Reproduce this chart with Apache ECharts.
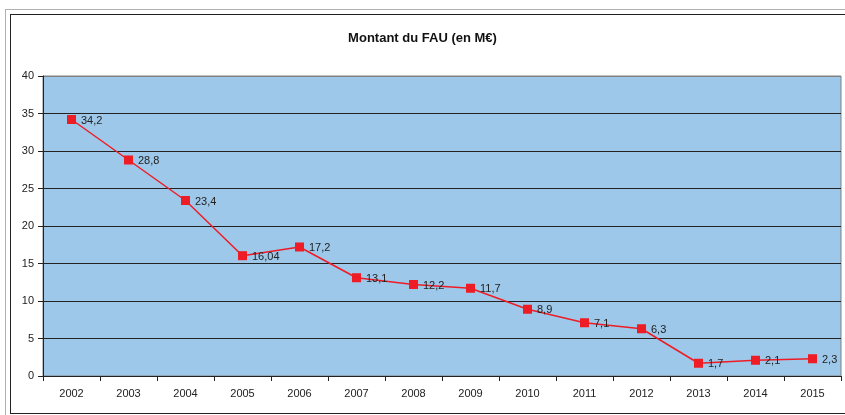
<!DOCTYPE html>
<html><head><meta charset="utf-8">
<script src="https://cdn.jsdelivr.net/npm/echarts@6/dist/echarts.min.js"></script>
<style>
html,body{margin:0;padding:0;background:#fff;}
#outer{position:absolute;left:5px;top:9px;width:850px;height:420px;border:1px solid #b0b0b0;box-sizing:border-box;}
#inner{position:absolute;left:10px;top:14px;width:850px;height:400px;border:1.5px solid #222;box-sizing:border-box;}
#chart{position:absolute;left:0;top:0;width:845px;height:415px;}
</style>
</head><body>
<div id="outer"></div><div id="inner"></div>
<div id="chart"></div>
<script>
const title = 'Montant du FAU (en M€)';
const years = ['2002','2003','2004','2005','2006','2007','2008','2009','2010','2011','2012','2013','2014','2015'];
const values = [34.2, 28.8, 23.4, 16.04, 17.2, 13.1, 12.2, 11.7, 8.9, 7.1, 6.3, 1.7, 2.1, 2.3];
const yMin = 0, yMax = 40, yStep = 5;

const nLines = (yMax - yMin) / yStep + 1;
const splitColors = Array.from({length:nLines}, (_, i) => i === nLines - 1 ? '#808080' : '#222');

const chart = echarts.init(document.getElementById('chart'), null, {renderer:'canvas'});
chart.setOption({
  animation:false,
  backgroundColor:'transparent',
  title:{text:title,left:'center',top:27,textStyle:{fontFamily:'Liberation Sans, Arial',fontWeight:'bold',fontSize:13,color:'#111'}},
  grid:{left:43,right:4,top:76,bottom:39,show:true,backgroundColor:'#9DC8EA',borderColor:'#808080',borderWidth:1},
  xAxis:{type:'category',data:years,boundaryGap:true,
    axisLine:{lineStyle:{color:'#222',width:1}},
    axisTick:{show:true,alignWithLabel:false,length:5,lineStyle:{color:'#222'}},
    axisLabel:{color:'#222',fontFamily:'Liberation Sans, Arial',fontSize:11,margin:12},
    splitLine:{show:false}},
  yAxis:{type:'value',min:yMin,max:yMax,interval:yStep,
    axisLine:{show:true,lineStyle:{color:'#222',width:1}},
    axisTick:{show:true,inside:false,length:5,lineStyle:{color:'#222'}},
    axisLabel:{color:'#222',fontFamily:'Liberation Sans, Arial',fontSize:11,margin:9},
    splitLine:{show:true,lineStyle:{color:splitColors,width:1}}},
  series:[{type:'line',data:values,symbol:'rect',symbolSize:9,
    itemStyle:{color:'#EE1C25'},lineStyle:{color:'#EE1C25',width:1.5},
    label:{show:true,position:'right',distance:5,offset:[0,1],color:'#222',fontFamily:'Liberation Sans, Arial',fontSize:11,
      formatter:p=>String(p.value).replace('.',',')}}]
});
</script>
</body></html>
